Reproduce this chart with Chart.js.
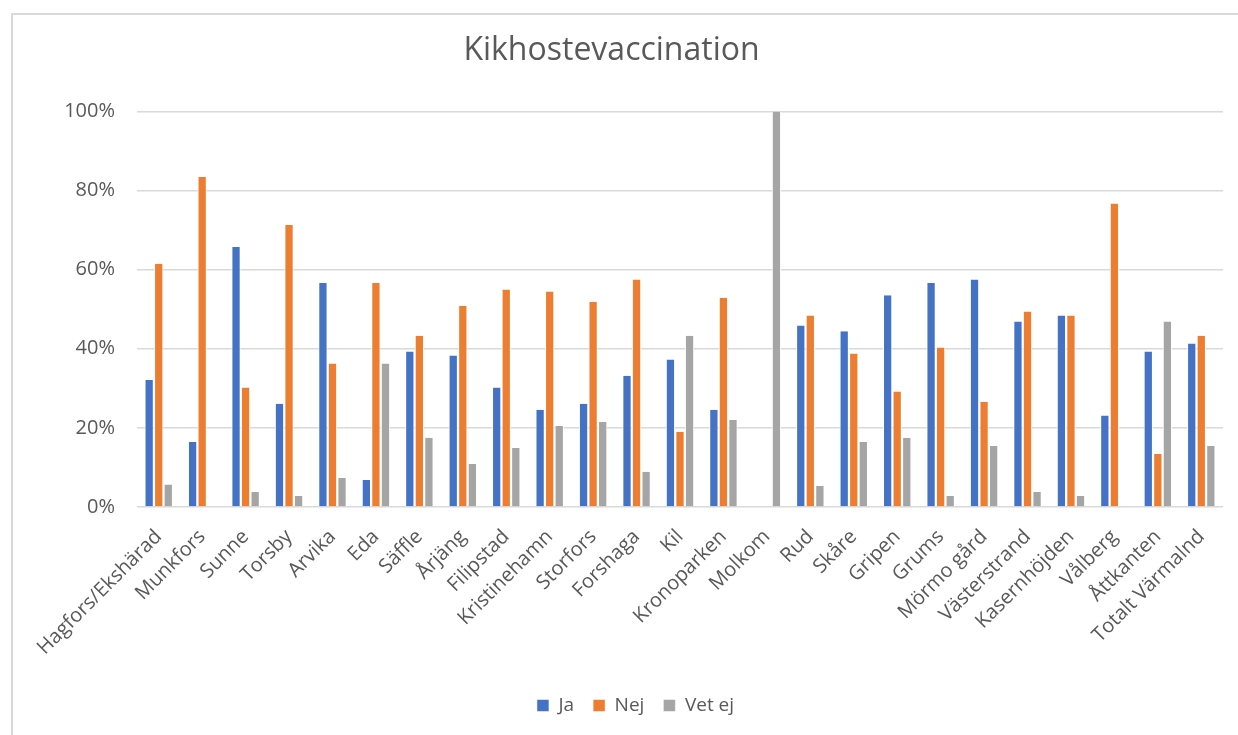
<!DOCTYPE html>
<html>
<head>
<meta charset="utf-8">
<script src="https://cdn.jsdelivr.net/npm/chart.js@4.4.0/dist/chart.umd.min.js"></script>
<style>
  html, body { margin: 0; padding: 0; background: #fff; }
  #frame { position: absolute; left: 11px; top: 13px; width: 1227px; height: 722px;
           border-left: 2px solid #d9d9d9; border-top: 2px solid #d9d9d9; box-sizing: border-box; }
  #wrap { position: absolute; left: 0; top: 0; width: 1238px; height: 735px; }
</style>
</head>
<body>
<div id="frame"></div>
<div id="wrap"><canvas id="chart"></canvas></div>
<script>
const categories = ['Hagfors/Ekshärad', 'Munkfors', 'Sunne', 'Torsby', 'Arvika', 'Eda', 'Säffle', 'Årjäng',
    'Filipstad', 'Kristinehamn', 'Storfors', 'Forshaga', 'Kil', 'Kronoparken', 'Molkom', 'Rud', 'Skåre',
    'Gripen', 'Grums', 'Mörmo gård', 'Västerstrand', 'Kasernhöjden', 'Vålberg', 'Åttkanten', 'Totalt Värmalnd'];

const ja = [32.1, 16.4, 65.7, 26.1, 56.6, 6.8, 39.3, 38.3, 30.2, 24.6, 26.1, 33.2, 37.3, 24.6, 0, 45.9, 44.4,
    53.5, 56.6, 57.5, 46.9, 48.4, 23.1, 39.3, 41.3];
const nej = [61.5, 83.4, 30.2, 71.3, 36.3, 56.6, 43.3, 50.9, 55.0, 54.5, 51.9, 57.5, 19.0, 52.9, 0, 48.4, 38.8,
    29.2, 40.3, 26.6, 49.4, 48.4, 76.7, 13.4, 43.3];
const vetEj = [5.7, 0, 3.8, 2.8, 7.3, 36.3, 17.5, 10.9, 14.9, 20.5, 21.5, 8.9, 43.3, 22.0, 100, 5.3, 16.4,
    17.5, 2.8, 15.4, 3.8, 2.8, 0, 46.9, 15.4];

const yTicks = [0, 20, 40, 60, 80, 100];

const textColor = '#595959';
const font = 'Open Sans';

function series(label, data, color) {
    return {
        label: label,
        data: data,
        backgroundColor: color,
        borderColor: '#ffffff',
        borderWidth: { left: 1, right: 1, top: 0, bottom: 0 },
        borderSkipped: false,
        categoryPercentage: 0.66,
        barPercentage: 0.97
    };
}

// nudge the legend a bit to the right, like the original
const legendShift = {
    id: 'legendShift',
    afterLayout(chart) {
        chart.legend.left += 24;
        chart.legend.right += 24;
    }
};

new Chart(document.getElementById('chart'), {
    type: 'bar',
    data: {
        labels: categories,
        datasets: [
            series('Ja', ja, '#4472C4'),
            series('Nej', nej, '#ED7D31'),
            series('Vet ej', vetEj, '#A5A5A5')
        ]
    },
    plugins: [legendShift],
    options: {
        responsive: true,
        maintainAspectRatio: false,
        animation: false,
        layout: { padding: { left: 0, right: 15, top: 12, bottom: 10 } },
        plugins: {
            title: {
                display: true,
                text: 'Kikhostevaccination',
                color: textColor,
                font: { family: font, size: 32, weight: 'normal' },
                padding: { top: 20, bottom: 41 }
            },
            legend: {
                position: 'bottom',
                labels: {
                    color: textColor,
                    font: { family: font, size: 19 },
                    boxWidth: 12,
                    boxHeight: 12,
                    padding: 19
                }
            },
            tooltip: { enabled: false }
        },
        scales: {
            x: {
                grid: { display: false },
                border: { display: false },
                afterFit: axis => { axis.height = 170; },
                ticks: {
                    color: textColor,
                    font: { family: font, size: 20 },
                    minRotation: 45,
                    maxRotation: 45,
                    autoSkip: false,
                    padding: 10
                }
            },
            y: {
                min: 0,
                max: 100,
                afterBuildTicks: axis => { axis.ticks = yTicks.map(v => ({ value: v })); },
                afterFit: axis => { axis.width = 137; },
                grid: { color: '#d9d9d9', lineWidth: 1.5, drawTicks: false },
                border: { display: false },
                ticks: {
                    color: textColor,
                    font: { family: font, size: 20 },
                    padding: 22,
                    callback: v => v + '%'
                }
            }
        }
    }
});
</script>
</body>
</html>
